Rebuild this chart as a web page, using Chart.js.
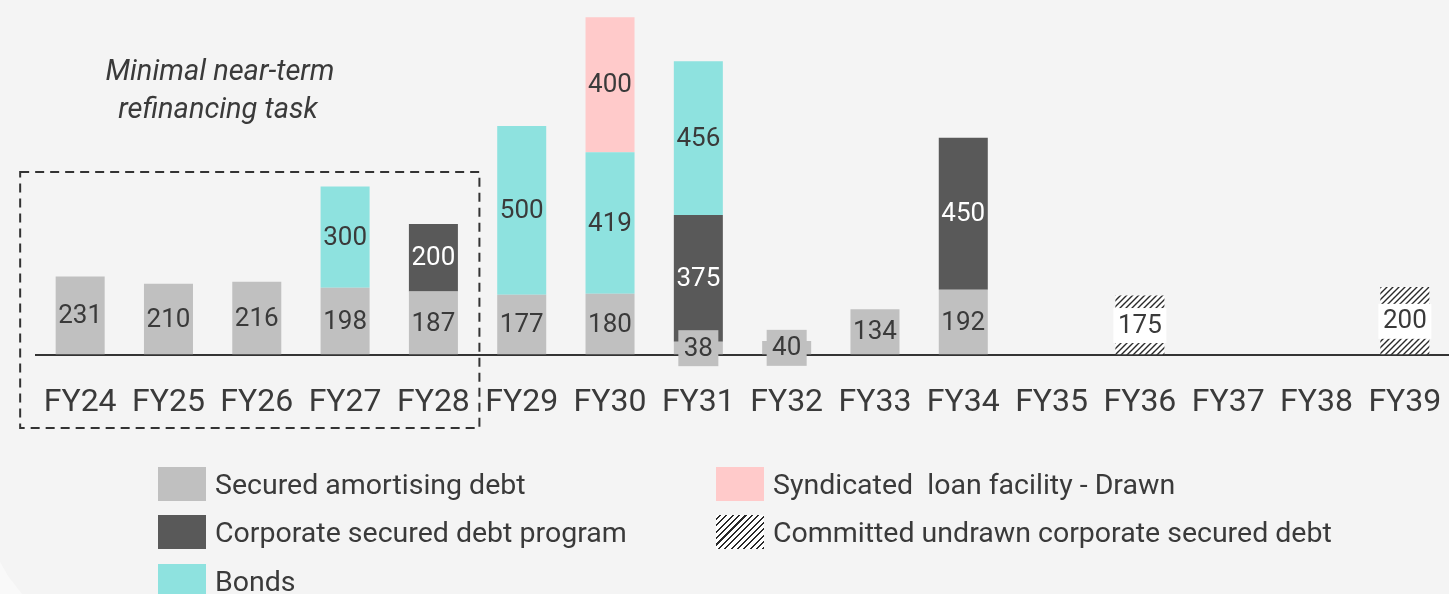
<!DOCTYPE html>
<html>
<head>
<meta charset="utf-8">
<script src="https://cdn.jsdelivr.net/npm/chart.js@4"></script>
<style>
  html, body { margin: 0; padding: 0; background: #f4f4f4; }
  #wrap { position: relative; width: 1449px; height: 594px; overflow: hidden; background: #f4f4f4; font-family: Roboto, "Noto Sans", sans-serif; color: #3a3a3a; }
  #c { position: absolute; left: 0; top: 0; }
  .leg { position: absolute; display: flex; align-items: center; font-size: 28.5px; white-space: pre; }
  .sw { width: 48px; height: 34px; margin-right: 9px; flex: none; }
  #corner { position: absolute; left: 0; top: 562px; width: 22px; height: 32px; background: #f9f9f9; clip-path: polygon(0 0, 8px 14px, 22px 32px, 0 32px); }
</style>
</head>
<body>
<div id="wrap">
  <canvas id="c" width="1449" height="594"></canvas>
  <div id="corner"></div>
  <div id="legend"></div>
</div>
<script>
const categories = ["FY24","FY25","FY26","FY27","FY28","FY29","FY30","FY31","FY32","FY33","FY34","FY35","FY36","FY37","FY38","FY39"];
const securedAmortising = [231,210,216,198,187,177,180,38,40,134,192,0,0,0,0,0];
const corporateSecured  = [0,0,0,0,200,0,0,375,0,0,450,0,0,0,0,0];
const bonds             = [0,0,0,300,0,500,419,456,0,0,0,0,0,0,0,0];
const syndicatedDrawn   = [0,0,0,0,0,0,400,0,0,0,0,0,0,0,0,0];
const committedUndrawn  = [0,0,0,0,0,0,0,0,0,0,0,0,175,0,0,200];
const seriesNames = ["Secured amortising debt","Corporate secured debt program","Bonds","Syndicated  loan facility - Drawn","Committed undrawn corporate secured debt"];
const annotationLines = ["Minimal near-term","refinancing task"];

const COL_GRAY = "#c0c0c0", COL_DARK = "#595959", COL_CYAN = "#8ee2df", COL_PINK = "#ffcaca";
const TEXT = "#3a3a3a";

function hatch() {
  const p = document.createElement("canvas");
  p.width = 6; p.height = 6;
  const g = p.getContext("2d");
  g.fillStyle = "#ffffff"; g.fillRect(0,0,6,6);
  g.strokeStyle = "#2a2a2a"; g.lineWidth = 1.4;
  g.beginPath();
  g.moveTo(-1,7); g.lineTo(7,-1);
  g.moveTo(-1,1); g.lineTo(1,-1);
  g.moveTo(5,7); g.lineTo(7,5);
  g.stroke();
  return g.createPattern(p, "repeat");
}
const hatchPattern = hatch();

const labelPlugin = {
  id: "labels",
  afterDatasetsDraw(chart) {
    const ctx = chart.ctx;
    ctx.save();
    ctx.font = "26px Roboto, sans-serif";
    ctx.textAlign = "center";
    ctx.textBaseline = "middle";
    chart.data.datasets.forEach((ds, di) => {
      const meta = chart.getDatasetMeta(di);
      meta.data.forEach((el, i) => {
        const v = ds.data[i];
        if (!v) return;
        const cx = el.x, cy = (el.y + el.base) / 2;
        const h = Math.abs(el.base - el.y);
        if (di === 4) {
          ctx.fillStyle = "#ffffff";
          ctx.fillRect(cx - el.width/2 - 2, cy - 17, el.width + 4, 35);
        } else if (h < 30) {
          ctx.fillStyle = ds.backgroundColor;
          ctx.fillRect(cx - 20, cy - 18, 40, 36);
        }
        ctx.fillStyle = di === 1 ? "#ffffff" : TEXT;
        ctx.fillText(String(v), cx, cy + 1);
      });
    });
    ctx.restore();
  }
};

const annotPlugin = {
  id: "annot",
  afterDraw(chart) {
    const ctx = chart.ctx;
    const x = chart.scales.x;
    const left = x.getPixelForValue(0) - 60;
    const right = x.getPixelForValue(4) + 46;
    ctx.save();
    ctx.strokeStyle = "#333333";
    ctx.lineWidth = 2;
    ctx.setLineDash([9, 6]);
    ctx.strokeRect(left, 172, right - left, 256);
    ctx.setLineDash([]);
    ctx.fillStyle = TEXT;
    ctx.font = "italic 29px Roboto, sans-serif";
    ctx.textAlign = "center";
    ctx.textBaseline = "alphabetic";
    ctx.fillText(annotationLines[0], 220, 80);
    ctx.fillText(annotationLines[1], 218, 118);
    ctx.restore();
  }
};

const colors = [COL_GRAY, COL_DARK, COL_CYAN, COL_PINK, hatchPattern];
const dataArrays = [securedAmortising, corporateSecured, bonds, syndicatedDrawn, committedUndrawn];

new Chart(document.getElementById("c"), {
  type: "bar",
  data: {
    labels: categories,
    datasets: dataArrays.map((d, i) => ({
      label: seriesNames[i],
      data: d,
      backgroundColor: colors[i],
      borderWidth: 0,
      barPercentage: 0.555,
      categoryPercentage: 1.0
    }))
  },
  options: {
    responsive: false,
    animation: false,
    layout: { padding: { left: 36, right: 0, top: 0, bottom: 169 } },
    plugins: { legend: { display: false }, tooltip: { enabled: false } },
    scales: {
      x: {
        stacked: true,
        grid: { display: false, drawTicks: true, tickLength: 26 },
        border: { display: true, color: "#333333", width: 2 },
        ticks: { color: TEXT, font: { family: "Roboto", size: 32 }, padding: 3, maxRotation: 0, autoSkip: false }
      },
      y: {
        stacked: true,
        display: false,
        min: 0, max: 1050
      }
    }
  },
  plugins: [labelPlugin, annotPlugin]
});

// HTML legend
const legendItems = [
  { name: seriesNames[0], bg: COL_GRAY, x: 158, y: 467 },
  { name: seriesNames[1], bg: COL_DARK, x: 158, y: 515 },
  { name: seriesNames[2], bg: COL_CYAN, x: 158, y: 564 },
  { name: seriesNames[3], bg: COL_PINK, x: 716, y: 467 },
  { name: seriesNames[4], bg: "repeating-linear-gradient(-45deg, #2a2a2a 0 1.5px, #ffffff 1.5px 4.5px)", x: 716, y: 515 }
];
const legEl = document.getElementById("legend");
legendItems.forEach(it => {
  const row = document.createElement("div");
  row.className = "leg";
  row.style.left = it.x + "px";
  row.style.top = it.y + "px";
  const sw = document.createElement("div");
  sw.className = "sw";
  sw.style.background = it.bg;
  const t = document.createElement("span");
  t.textContent = it.name;
  row.appendChild(sw); row.appendChild(t);
  legEl.appendChild(row);
});
</script>
</body>
</html>
